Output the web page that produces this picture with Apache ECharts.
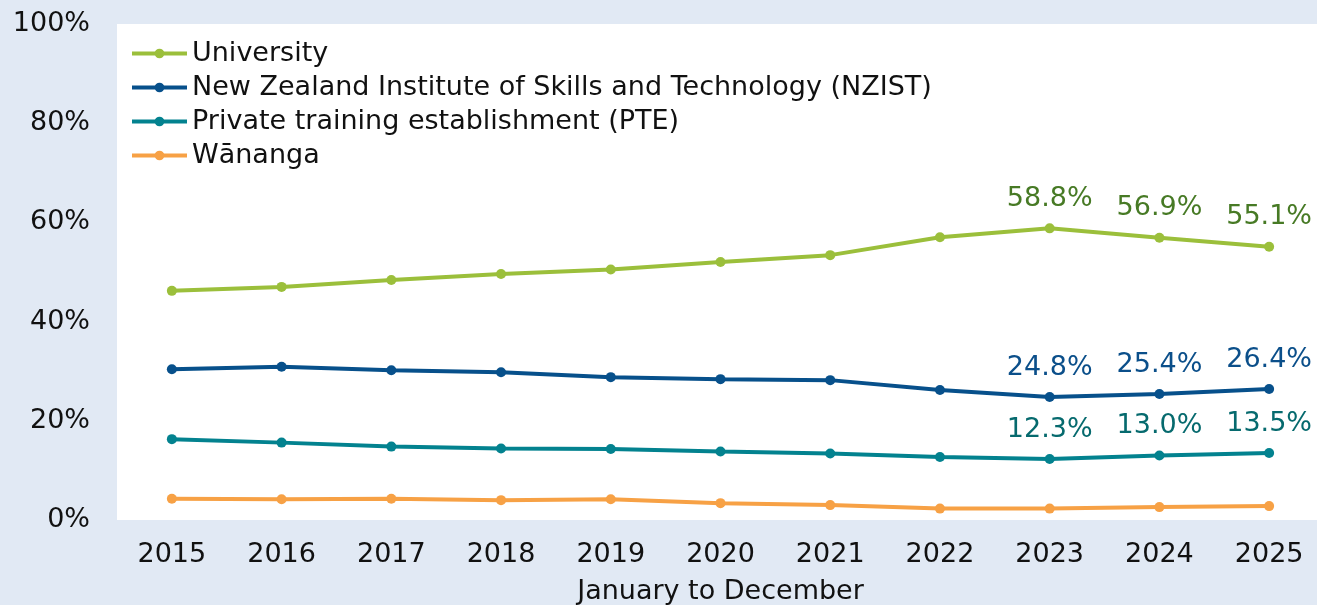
<!DOCTYPE html>
<html>
<head>
<meta charset="utf-8">
<script src="https://cdn.jsdelivr.net/npm/echarts@6/dist/echarts.min.js"></script>
<style>
  html, body { margin: 0; padding: 0; background: #e1e9f4; }
  #chart { width: 1317px; height: 605px; }
</style>
</head>
<body>
<div id="chart"></div>
<script>
// years on the x axis
var years = ['2015', '2016', '2017', '2018', '2019', '2020', '2021', '2022', '2023', '2024', '2025'];

// share of learners by provider type (%)
var university = [46.2, 47.0, 48.4, 49.6, 50.5, 52.0, 53.4, 57.0, 58.8, 56.9, 55.1];
var nzist      = [30.4, 30.9, 30.2, 29.8, 28.8, 28.4, 28.2, 26.2, 24.8, 25.4, 26.4];
var pte        = [16.3, 15.6, 14.8, 14.4, 14.3, 13.8, 13.4, 12.7, 12.3, 13.0, 13.5];
var wananga    = [4.3, 4.2, 4.3, 4.0, 4.2, 3.4, 3.0, 2.3, 2.3, 2.6, 2.8];

var seriesNames = ['University', 'New Zealand Institute of Skills and Technology (NZIST)', 'Private training establishment (PTE)', 'Wānanga'];

var FONT = 'DejaVu Sans';
var FS = 27;

// only the last three years get a value label
function lastThree(p) {
  return p.dataIndex >= 8 ? p.value.toFixed(1) + '%' : '';
}

function makeSeries(name, data, color, labelColor) {
  return {
    name: name,
    type: 'line',
    data: data,
    symbol: 'circle',
    symbolSize: 10,
    lineStyle: { width: 4, color: color },
    itemStyle: { color: color },
    label: {
      show: labelColor != null,
      position: 'top',
      distance: 11,
      formatter: lastThree,
      color: labelColor,
      fontSize: FS,
      fontFamily: FONT
    },
    emphasis: { disabled: true }
  };
}

var chart = echarts.init(document.getElementById('chart'));

var option = {
  backgroundColor: '#e1e9f4',
  animation: false,
  textStyle: { fontFamily: FONT },
  legend: {
    orient: 'vertical',
    left: 130,
    top: 40,
    padding: 0,
    itemGap: 7,
    itemWidth: 55,
    itemHeight: 12,
    lineStyle: { width: 4 },
    textStyle: { fontSize: FS, color: '#111', fontFamily: FONT },
    data: seriesNames
  },
  grid: {
    left: 117,
    top: 24,
    width: 1207,
    bottom: 85,
    outerBoundsMode: 'none',
    containLabel: false,
    show: true,
    backgroundColor: '#ffffff',
    borderWidth: 0
  },
  xAxis: {
    type: 'category',
    data: years,
    boundaryGap: true,
    axisLine: { show: false },
    axisTick: { show: false },
    axisLabel: { fontSize: FS, color: '#111', margin: 21, fontFamily: FONT },
    name: 'January to December',
    nameLocation: 'middle',
    nameGap: 58,
    nameTextStyle: { fontSize: FS, color: '#111', fontFamily: FONT }
  },
  yAxis: {
    type: 'value',
    min: 0,
    max: 100,
    interval: 20,
    splitLine: { show: false },
    axisLine: { show: false },
    axisTick: { show: false },
    axisLabel: { fontSize: FS, color: '#111', margin: 27, formatter: '{value}%', fontFamily: FONT }
  },
  series: [
    makeSeries(seriesNames[0], university, '#9bbf3b', '#477a25'),
    makeSeries(seriesNames[1], nzist, '#07508b', '#0b4f8a'),
    makeSeries(seriesNames[2], pte, '#03828f', '#066a6e'),
    makeSeries(seriesNames[3], wananga, '#f7a145', null)
  ]
};

chart.setOption(option);
</script>
</body>
</html>
